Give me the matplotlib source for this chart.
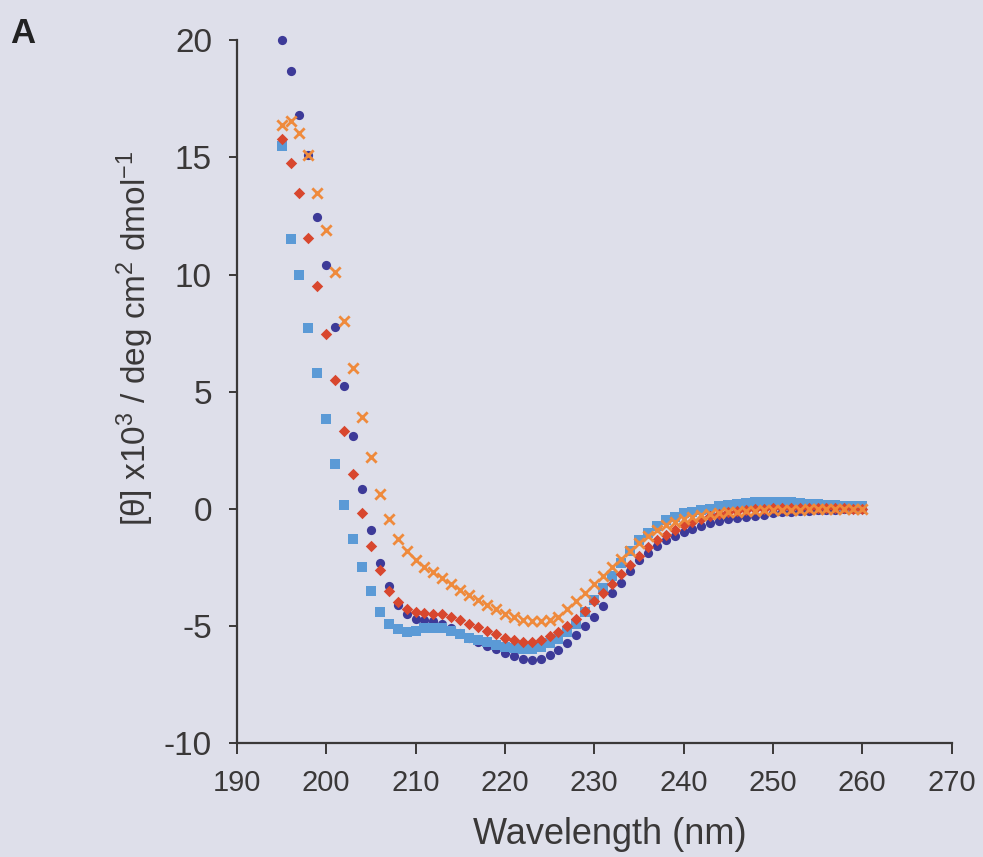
import matplotlib
matplotlib.use("Agg")
import matplotlib.pyplot as plt
from matplotlib import font_manager

plt.rcParams['font.family'] = ['Liberation Sans', 'DejaVu Sans']
plt.rcParams['mathtext.fontset'] = 'custom'
plt.rcParams['mathtext.rm'] = 'Liberation Sans'
plt.rcParams['mathtext.it'] = 'Liberation Sans'

# wavelength, nm (195..260 in 1 nm steps)
comprimento = list(range(195, 261))

serie_circulos = [
    20.0, 18.7, 16.8, 15.1, 12.45, 10.4, 7.75, 5.25, 3.1, 0.85,
    -0.9, -2.3, -3.3, -4.1, -4.5, -4.7, -4.75, -4.8, -4.9, -5.1,
    -5.3, -5.5, -5.7, -5.85, -6.0, -6.15, -6.3, -6.4, -6.45, -6.4,
    -6.25, -6.05, -5.75, -5.4, -5.0, -4.6, -4.15, -3.6, -3.15, -2.65,
    -2.2, -1.9, -1.6, -1.35, -1.15, -1.0, -0.87, -0.75, -0.62, -0.53,
    -0.45, -0.4, -0.35, -0.3, -0.25, -0.2, -0.15, -0.12, -0.1, -0.08,
    -0.06, -0.05, -0.04, -0.03, -0.02, -0.02]

serie_quadrados = [
    15.5, 11.5, 10.0, 7.7, 5.8, 3.85, 1.9, 0.15, -1.3, -2.5,
    -3.5, -4.4, -4.9, -5.15, -5.25, -5.2, -5.1, -5.1, -5.1, -5.2,
    -5.35, -5.5, -5.6, -5.7, -5.8, -5.9, -5.95, -6.0, -6.0, -5.9,
    -5.75, -5.55, -5.25, -4.9, -4.4, -3.9, -3.4, -2.85, -2.3, -1.8,
    -1.35, -1.05, -0.75, -0.5, -0.33, -0.2, -0.12, -0.05, 0.0, 0.1,
    0.17, 0.22, 0.25, 0.28, 0.3, 0.3, 0.28, 0.27, 0.25, 0.22,
    0.2, 0.17, 0.15, 0.12, 0.1, 0.1]

serie_losangos = [
    15.8, 14.75, 13.5, 11.55, 9.5, 7.45, 5.5, 3.3, 1.5, -0.2,
    -1.6, -2.6, -3.5, -4.0, -4.3, -4.4, -4.45, -4.5, -4.5, -4.6,
    -4.75, -4.9, -5.05, -5.2, -5.35, -5.5, -5.6, -5.7, -5.7, -5.6,
    -5.45, -5.25, -5.0, -4.7, -4.35, -3.95, -3.6, -3.2, -2.8, -2.4,
    -2.0, -1.65, -1.35, -1.1, -0.9, -0.7, -0.55, -0.42, -0.32, -0.22,
    -0.15, -0.1, -0.05, -0.02, 0.0, 0.02, 0.03, 0.04, 0.04, 0.04,
    0.03, 0.03, 0.02, 0.02, 0.01, 0.0]

serie_cruzes = [
    16.4, 16.55, 16.05, 15.1, 13.5, 11.9, 10.1, 8.0, 6.0, 3.9,
    2.2, 0.65, -0.45, -1.3, -1.8, -2.2, -2.5, -2.7, -2.95, -3.2,
    -3.45, -3.7, -3.9, -4.1, -4.3, -4.5, -4.6, -4.75, -4.8, -4.8,
    -4.75, -4.6, -4.3, -3.95, -3.6, -3.2, -2.85, -2.5, -2.15, -1.8,
    -1.45, -1.15, -0.9, -0.7, -0.55, -0.42, -0.33, -0.26, -0.21, -0.17,
    -0.14, -0.12, -0.1, -0.08, -0.07, -0.06, -0.05, -0.04, -0.04, -0.03,
    -0.03, -0.02, -0.02, -0.02, -0.01, -0.01]

xticks = [190, 200, 210, 220, 230, 240, 250, 260, 270]
yticks = [-10, -5, 0, 5, 10, 15, 20]

fundo = '#dedfea'
cor_eixo = '#3a3838'

# x tick labels are condensed in the original; use the narrow face if present
nomes = {f.name for f in font_manager.fontManager.ttflist}
if 'Liberation Sans Narrow' in nomes:
    fonte_x, tam_x = 'Liberation Sans Narrow', 23
else:
    fonte_x, tam_x = 'Liberation Sans', 21

fig = plt.figure(figsize=(9.83, 8.57), dpi=100, facecolor=fundo)
ax = fig.add_axes([0.241, 0.133, 0.727, 0.820], facecolor=fundo)

ax.scatter(comprimento, serie_circulos, marker='o', s=44, color='#3d3a98', linewidths=0, zorder=3, clip_on=False)
ax.scatter(comprimento, serie_quadrados, marker='s', s=50, color='#5b9ad6', linewidths=0, zorder=4, clip_on=False)
ax.scatter(comprimento, serie_losangos, marker='D', s=34, color='#d8472e', linewidths=0, zorder=5, clip_on=False)
ax.scatter(comprimento, serie_cruzes, marker='x', s=55, color='#ef8a3c', linewidths=2, zorder=6, clip_on=False)

ax.set_xlim(190, 270)
ax.set_ylim(-10, 20)
ax.set_xticks(xticks)
ax.set_yticks(yticks)
ax.set_xticklabels([str(v) for v in xticks], family=fonte_x, fontsize=tam_x)
ax.set_yticklabels([str(v) for v in yticks], fontsize=24)

for lado in ['top', 'right']:
    ax.spines[lado].set_visible(False)
for lado in ['left', 'bottom']:
    ax.spines[lado].set_color(cor_eixo)
    ax.spines[lado].set_linewidth(1.6)

ax.tick_params(axis='x', length=8, width=1.4, colors=cor_eixo, pad=11)
ax.tick_params(axis='y', length=6, width=1.4, colors=cor_eixo, pad=12)

ax.set_xlabel('Wavelength (nm)', fontsize=26, color=cor_eixo, va='center', ha='center')
ax.xaxis.set_label_coords(0.522, -0.13)
ax.set_ylabel(r'[θ] x10$^{3}$ / deg cm$^{2}$ dmol$^{-1}$', fontsize=24, color=cor_eixo,
              va='center', ha='center')
ax.yaxis.set_label_coords(-0.142, 0.576)

fig.text(0.010, 0.980, 'A', fontsize=25, fontweight='bold', color='#222222', va='top', ha='left')

fig.savefig('out.png', dpi=100, facecolor=fundo)
